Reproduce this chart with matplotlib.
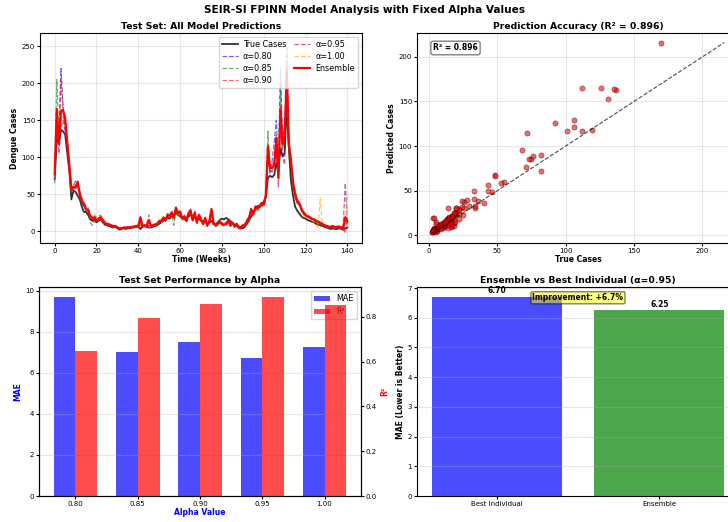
import numpy as np
import matplotlib
matplotlib.use("Agg")
import matplotlib.pyplot as plt

# weekly test-set values
true_cases = [
    71, 126, 119, 137, 135, 131, 106, 82, 43, 55, 53, 48, 43, 33, 26, 26, 22, 16, 14, 15, 12,
    14, 16, 12, 9, 8, 7, 6, 5, 6, 4, 2, 3, 4, 3, 4, 4, 5, 5, 6, 6, 3, 6, 7, 6, 5, 5, 6, 7, 8, 10,
    12, 14, 16, 18, 17, 20, 22, 24, 22, 20,
    18, 16, 18, 20, 22, 19, 18, 15, 17, 14,
    12, 13, 10, 11, 14, 10, 9, 12, 15, 17,
    16, 18, 16, 14, 10, 8, 7, 6, 5, 4,
    6, 10, 15, 20, 25, 29, 34, 34, 36, 40, 46,
    72, 75, 73, 76, 92, 82, 112, 101, 106, 170, 112, 68,
    48, 33, 28, 24, 20, 18, 17, 15, 14, 13, 12, 10, 9, 8, 7, 6, 5, 4, 3, 4, 3, 3, 4, 3, 2, 4, 5]

ensemble = [
    77, 165, 118, 163, 164, 153, 121, 90, 56, 60, 59, 67, 50, 41, 37, 30, 29, 20, 17, 19, 14,
    17, 19, 15, 11, 10, 9, 8, 7, 7, 5, 4, 4, 5, 5, 5, 5, 6, 6, 7, 7, 19, 7, 8, 7, 15, 7, 8, 9, 10, 13,
    14, 18, 15, 22, 20, 25, 18, 32, 24, 26,
    17, 20, 14, 24, 28, 15, 25, 12, 22, 16,
    10, 18, 8, 14, 30, 10, 8, 10, 12, 10,
    9, 10, 14, 8, 12, 7, 10, 5, 4, 8,
    8, 14, 18, 30, 23, 33, 31, 33, 38, 36, 49,
    115, 85, 86, 89, 126, 72, 165, 117, 129, 216, 117, 96,
    66, 50, 40, 38, 30, 25, 22, 20, 19, 17, 16, 14, 13, 11, 10, 8, 7, 6, 6, 7, 5, 6, 6, 5, 4, 19, 13]

pred_080 = [
    72, 150, 125, 220, 170, 140, 115, 95, 58, 62, 68, 62, 52, 38, 33, 28, 27, 18, 16, 17, 13,
    16, 18, 14, 10, 9, 8, 7, 6, 6, 5, 4, 4, 4, 5, 5, 5, 6, 6, 7, 7, 10, 7, 7, 6, 8, 7, 8, 9, 11, 14,
    15, 19, 16, 24, 22, 26, 20, 30, 25, 27,
    18, 21, 15, 25, 27, 16, 24, 13, 21, 17,
    11, 17, 9, 15, 26, 11, 9, 11, 12, 11,
    10, 11, 13, 9, 11, 8, 9, 6, 5, 9,
    9, 15, 20, 31, 25, 34, 33, 35, 40, 38, 47,
    105, 80, 95, 120, 150, 90, 220, 125, 140, 200, 125, 90,
    65, 52, 42, 37, 29, 24, 21, 19, 18, 17, 15, 14, 12, 10, 9, 8, 7, 6, 6, 6, 5, 6, 6, 5, 5, 15, 12]

pred_085 = [
    65, 205, 120, 150, 155, 145, 118, 88, 55, 58, 60, 64, 48, 37, 34, 27, 25, 12, 8, 15, 12,
    14, 17, 12, 9, 8, 7, 6, 5, 5, 4, 3, 3, 4, 4, 4, 4, 5, 5, 6, 6, 8, 6, 6, 5, 6, 5, 6, 7, 8, 11,
    11, 16, 13, 19, 17, 22, 8, 28, 21, 23,
    15, 17, 12, 21, 25, 13, 22, 10, 19, 13,
    8, 15, 6, 12, 25, 8, 6, 8, 10, 8,
    7, 8, 12, 6, 10, 5, 8, 4, 3, 6,
    6, 12, 16, 27, 21, 30, 28, 30, 35, 33, 44,
    135, 82, 80, 85, 118, 75, 200, 110, 120, 205, 110, 85,
    60, 46, 37, 35, 27, 22, 20, 18, 17, 15, 14, 12, 11, 9, 8, 7, 6, 5, 5, 6, 4, 5, 5, 4, 3, 12, 10]

pred_090 = [
    75, 160, 125, 205, 160, 150, 125, 92, 60, 63, 62, 65, 55, 44, 40, 33, 32, 22, 20, 22, 18,
    20, 22, 17, 13, 12, 10, 9, 8, 8, 6, 5, 5, 5, 6, 6, 6, 7, 7, 8, 8, 13, 8, 9, 8, 22, 8, 9, 10, 12, 15,
    16, 20, 17, 23, 22, 27, 20, 30, 26, 28,
    19, 22, 16, 26, 30, 17, 27, 14, 24, 18,
    12, 19, 10, 16, 28, 12, 10, 12, 14, 12,
    11, 12, 15, 10, 13, 9, 11, 7, 6, 9,
    10, 16, 20, 28, 25, 32, 30, 32, 37, 35, 47,
    110, 88, 90, 95, 130, 80, 170, 120, 135, 225, 120, 100,
    68, 55, 43, 40, 32, 27, 24, 22, 20, 18, 17, 15, 14, 12, 11, 9, 8, 7, 7, 8, 6, 7, 7, 6, 4, -3, 15]

pred_095 = [
    70, 150, 105, 140, 150, 135, 110, 85, 54, 57, 58, 60, 48, 39, 35, 29, 28, 19, 16, 18, 13,
    16, 18, 14, 10, 9, 8, 7, 6, 6, 5, 4, 4, 4, 5, 5, 5, 6, 6, 6, 7, 9, 6, 7, 6, 7, 6, 7, 8, 10, 12,
    13, 17, 14, 21, 19, 24, 17, 28, 23, 25,
    16, 19, 13, 23, 26, 14, 23, 11, 21, 15,
    9, 17, 7, 13, 27, 9, 7, 9, 11, 9,
    8, 9, 13, 7, 11, 6, 9, 4, 3, 7,
    7, 13, 17, 29, 22, 31, 30, 32, 36, 34, 45,
    100, 78, 82, 95, 110, 60, 150, 100, 90, 255, 115, 90,
    62, 48, 38, 36, 28, 24, 21, 19, 18, 16, 15, 13, 12, 10, 9, 8, 6, 5, 5, 6, 4, 5, 5, 4, 8, 65, 12]

pred_100 = [
    72, 155, 120, 158, 160, 150, 118, 88, 55, 58, 57, 62, 49, 40, 36, 29, 28, 19, 16, 18, 13,
    16, 18, 14, 10, 9, 8, 7, 6, 6, 5, 4, 4, 4, 5, 5, 5, 5, 6, 6, 6, 9, 6, 7, 6, 6, 6, 7, 8, 9, 12,
    12, 16, 14, 20, 19, 23, 17, 29, 22, 24,
    15, 18, 13, 22, 26, 14, 23, 11, 20, 14,
    9, 16, 7, 12, 27, 9, 7, 9, 11, 9,
    8, 9, 12, 7, 11, 6, 9, 4, 3, 7,
    7, 13, 17, 28, 22, 31, 30, 31, 36, 34, 46,
    112, 83, 85, 88, 122, 70, 160, 115, 125, 210, 115, 92,
    64, 48, 38, 36, 29, 24, 21, 19, 17, 15, 12, 8, 5, 45, 9, 7, 6, 5, 5, 6, 4, 5, 5, 4, 3, 10, 48]

alpha_labels = ['0.80', '0.85', '0.90', '0.95', '1.00']
alpha_colors = ['blue', 'green', 'red', 'purple', 'orange']
mae_values = [9.69, 7.02, 7.49, 6.70, 7.26]
r2_values = [0.647, 0.795, 0.858, 0.889, 0.852]

compare_names = ['Best Individual', 'Ensemble']
compare_mae = [6.70, 6.25]
r2_ensemble = 0.896

weeks = np.arange(len(true_cases))
preds = [pred_080, pred_085, pred_090, pred_095, pred_100]

fig = plt.figure(figsize=(7.28, 5.22), dpi=100)
fig.suptitle('SEIR-SI FPINN Model Analysis with Fixed Alpha Values', fontsize=7.6,
             fontweight='bold', y=0.99)

W = 0.4423
ax1 = fig.add_axes([0.055, 0.5345, W, 0.4023])
ax2 = fig.add_axes([0.5728, 0.5345, W, 0.4023])
ax3 = fig.add_axes([0.0536, 0.0498, W, 0.4004])
ax4 = fig.add_axes([0.5728, 0.0498, W, 0.4004])

tfs = 6.7
lfs = 5.5
kfs = 5

#---------------- time series ----------------#
ax1.plot(weeks, true_cases, 'k-', linewidth=1.3, alpha=0.8, label='True Cases')
for p, lab, c in zip(preds, alpha_labels, alpha_colors):
    ax1.plot(weeks, p, '--', color=c, linewidth=0.9, alpha=0.6, label='α=' + lab)
ax1.plot(weeks, ensemble, 'r-', linewidth=1.6, label='Ensemble')
ax1.set_title('Test Set: All Model Predictions', fontsize=tfs, fontweight='bold', pad=3)
ax1.set_xlabel('Time (Weeks)', fontsize=lfs, fontweight='bold', labelpad=1)
ax1.set_ylabel('Dengue Cases', fontsize=lfs, fontweight='bold', labelpad=2)
ax1.legend(ncol=2, fontsize=5.8, loc='upper right', handlelength=2.0, columnspacing=1.0,
           labelspacing=0.35, borderpad=0.4, handletextpad=0.6)
ax1.grid(True, alpha=0.3)

#---------------- scatter ----------------#
ax2.scatter(true_cases, ensemble, color='red', alpha=0.6, s=14, edgecolors='black', linewidths=0.4)
lo = min(min(true_cases), min(ensemble))
hi = max(max(true_cases), max(ensemble))
ax2.plot([lo, hi], [lo, hi], 'k--', linewidth=0.8, alpha=0.7)
ax2.set_title('Prediction Accuracy (R² = %.3f)' % r2_ensemble, fontsize=tfs, fontweight='bold', pad=3)
ax2.set_xlabel('True Cases', fontsize=lfs, fontweight='bold', labelpad=1)
ax2.set_ylabel('Predicted Cases', fontsize=lfs, fontweight='bold', labelpad=2)
ax2.text(0.05, 0.95, 'R² = %.3f' % r2_ensemble, transform=ax2.transAxes, fontsize=5.5,
         fontweight='bold', va='top',
         bbox=dict(boxstyle='round,pad=0.3', facecolor='white', edgecolor='gray'))
ax2.grid(True, alpha=0.3)

#---------------- bars by alpha ----------------#
x = np.arange(len(alpha_labels))
bw = 0.35
b1 = ax3.bar(x - bw / 2, mae_values, bw, color='blue', alpha=0.7, label='MAE')
ax3b = ax3.twinx()
b2 = ax3b.bar(x + bw / 2, r2_values, bw, color='red', alpha=0.7, label='R²')
ax3.set_xticks(x)
ax3.set_xticklabels(alpha_labels)
ax3.set_title('Test Set Performance by Alpha', fontsize=tfs, fontweight='bold', pad=3)
ax3.set_xlabel('Alpha Value', fontsize=lfs, fontweight='bold', color='blue', labelpad=1)
ax3.set_ylabel('MAE', fontsize=lfs, fontweight='bold', color='blue', labelpad=2)
ax3b.set_ylabel('R²', fontsize=lfs, fontweight='bold', color='red', labelpad=2)
ax3.legend([b1, b2], ['MAE', 'R²'], loc='upper right', fontsize=5.8)
ax3.grid(True, alpha=0.3, axis='y')
ax3b.tick_params(labelsize=kfs, length=2, pad=1.5)

#---------------- ensemble vs best ----------------#
bars = ax4.bar(compare_names, compare_mae, color=['blue', 'green'], alpha=0.7)
for b, v in zip(bars, compare_mae):
    ax4.text(b.get_x() + b.get_width() / 2, v + 0.05, '%.2f' % v, ha='center', va='bottom',
             fontsize=5.5, fontweight='bold')
improve = (compare_mae[0] - compare_mae[1]) / compare_mae[0] * 100
ax4.text(0.5, 0.97, 'Improvement: %+.1f%%' % improve, transform=ax4.transAxes, ha='center',
         va='top', fontsize=5.5, fontweight='bold',
         bbox=dict(boxstyle='round,pad=0.2', facecolor='yellow', alpha=0.5))
ax4.set_title('Ensemble vs Best Individual (α=0.95)', fontsize=tfs, fontweight='bold', pad=3)
ax4.set_ylabel('MAE (Lower is Better)', fontsize=lfs, fontweight='bold', labelpad=2)
ax4.grid(True, alpha=0.3, axis='y')

for a in [ax1, ax2, ax3, ax4]:
    a.tick_params(labelsize=kfs, length=2, pad=1.5)

fig.savefig('out.png', dpi=100)
